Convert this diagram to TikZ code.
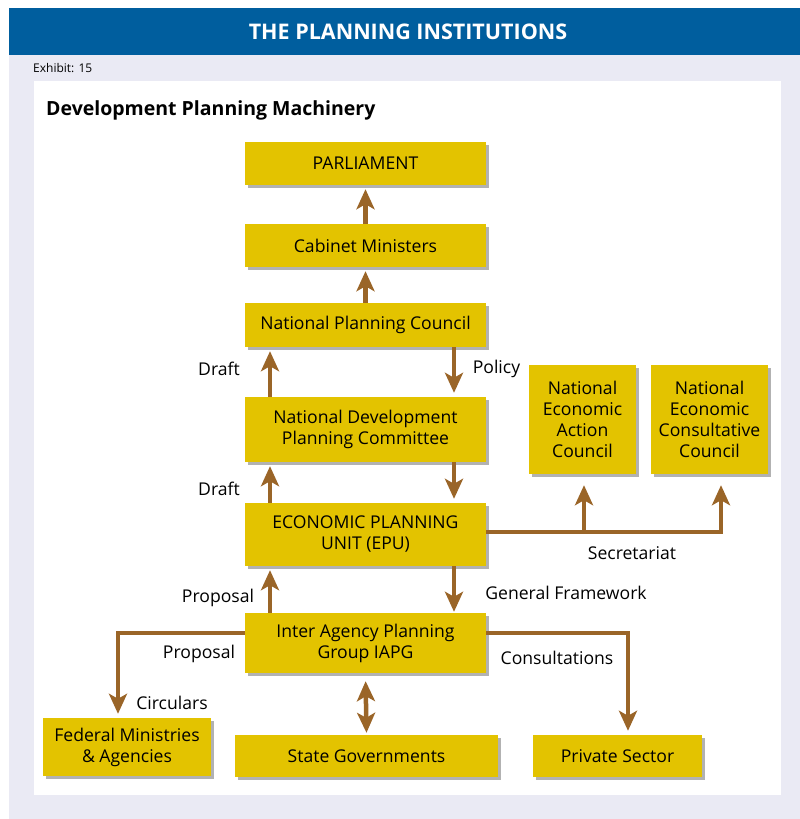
\documentclass[tikz,border=0pt]{standalone}
\usepackage{fontspec}
\setmainfont{Open Sans}
\usetikzlibrary{arrows.meta,shadows}
\definecolor{bandblue}{HTML}{005E9E}
\definecolor{panel}{HTML}{EAEAF4}
\definecolor{gold}{HTML}{E3C300}
\definecolor{arrowbrown}{HTML}{9A6528}
\newcommand{\boxfont}{\fontsize{17.6}{21}\selectfont}

\tikzset{
  bigtip/.tip={Stealth[length=20pt,width=18pt,inset=5pt]},
  box/.style={fill=gold, inner sep=0pt, align=center, font=\boxfont,
    drop shadow={shadow xshift=3pt, shadow yshift=-3pt, fill=black!30, opacity=1}},
  link/.style={draw=arrowbrown, line width=4.5pt, -bigtip, shorten >=4pt},
  tag/.style={font=\boxfont, inner sep=0pt},
}

\begin{document}
\begin{tikzpicture}[x=1pt,y=-1pt]
        \useasboundingbox (0,0) rectangle (800,819);
        \fill[white] (0,0) rectangle (800,819);

        % frame and heading band
        \fill[panel] (9,55) rectangle (800,819);
        \fill[bandblue] (9,8) rectangle (800,55);
        \fill[white] (34,81) rectangle (781,795);

        \node[text=white, font=\bfseries\fontsize{21.5}{24}\selectfont] (head) at (408,32) {THE PLANNING INSTITUTIONS};
        \node[anchor=west, inner sep=0pt, font=\fontsize{12}{14}\selectfont] (exhibit) at (33,68) {Exhibit: 15};
        \node[anchor=west, inner sep=0pt, font=\bfseries\fontsize{19.5}{22}\selectfont] (title) at (46,110) {Development Planning Machinery};

        % main column
        \node[box, minimum width=241pt, minimum height=43pt] (parl) at (365.5,163.5) {PARLIAMENT};
        \node[box, minimum width=241pt, minimum height=43pt] (cab) at (365.5,245.5) {Cabinet Ministers};
        \node[box, minimum width=241pt, minimum height=44pt] (npc) at (365.5,325) {National Planning Council};
        \node[box, minimum width=241pt, minimum height=65pt] (ndpc) at (365.5,429.5) {National Development\\Planning Committee};
        \node[box, minimum width=241pt, minimum height=63pt] (epu) at (365.5,534.5) {ECONOMIC PLANNING\\UNIT (EPU)};
        \node[box, minimum width=241pt, minimum height=60pt] (iapg) at (365.5,643) {Inter Agency Planning\\Group IAPG};

        % councils on the right
        \node[box, minimum width=107pt, minimum height=109pt] (neac) at (582.5,419.5) {National\\Economic\\Action\\Council};
        \node[box, minimum width=117pt, minimum height=109pt] (necc) at (709.5,419.5) {National\\Economic\\Consultative\\Council};

        % bottom row
        \node[box, minimum width=168pt, minimum height=58pt] (fed) at (127,747) {Federal Ministries\\\& Agencies};
        \node[box, minimum width=263pt, minimum height=42pt] (state) at (366.5,756) {State Governments};
        \node[box, minimum width=169pt, minimum height=42pt] (priv) at (617.5,756) {Private Sector};

        % arrows up and down the column
        \draw[link] (cab.north) -- (parl.south);
        \draw[link] (npc.north) -- (cab.south);
        \draw[link] ([xshift=-95.5pt]ndpc.north) -- ([xshift=-95.5pt]npc.south);
        \draw[link] ([xshift=88.5pt]npc.south) -- ([xshift=88.5pt]ndpc.north);
        \draw[link] ([xshift=-95.5pt]epu.north) -- ([xshift=-95.5pt]ndpc.south);
        \draw[link] ([xshift=88.5pt]ndpc.south) -- ([xshift=88.5pt]epu.north);
        \draw[link] ([xshift=-95.5pt]iapg.north) -- ([xshift=-95.5pt]epu.south);
        \draw[link, shorten >=1pt] ([xshift=88.5pt]epu.south) -- ([xshift=88.5pt]iapg.north);

        % secretariat branch
        \coordinate (splitA) at (584,532);
        \coordinate (splitB) at (721,532);
        \draw[link, shorten >=11pt] (epu.east |- splitB) -- (splitB) -- (necc.south -| splitB);
        \draw[link, shorten >=11pt] (splitA) -- (neac.south -| splitA);

        % lines out of the IAPG
        \coordinate (leftbend) at (118,633);
        \coordinate (rightbend) at (628,633);
        \draw[link] (iapg.west |- leftbend) -- (leftbend) -- (fed.north -| leftbend);
        \draw[link] (iapg.east |- rightbend) -- (rightbend) -- (priv.north -| rightbend);
        \draw[link, bigtip-bigtip, shorten <=8pt, shorten >=2pt] (iapg.south) -- (state.north);

        % labels
        \node[tag] (draftA) at (219,369) {Draft};
        \node[tag] (policy) at (496.5,369) {Policy};
        \node[tag] (draftB) at (219,489) {Draft};
        \node[tag] (secr) at (632,553) {Secretariat};
        \node[tag] (propA) at (218,598) {Proposal};
        \node[tag] (frame) at (566,593) {General Framework};
        \node[tag] (propB) at (199,654) {Proposal};
        \node[tag] (consult) at (557,658) {Consultations};
        \node[tag] (circ) at (172,703) {Circulars};

    \end{tikzpicture}
\end{document}
